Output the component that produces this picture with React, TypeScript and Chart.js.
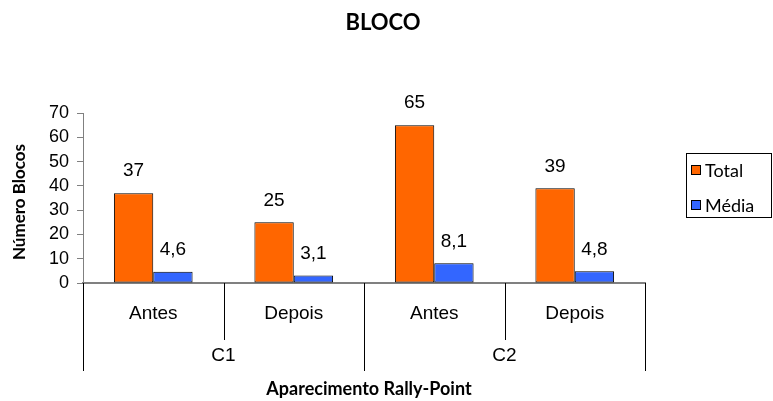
import React, { useEffect, useRef } from "react";
import { Chart, registerables } from "chart.js";

Chart.register(...registerables);

const chartTitle = "BLOCO";
const categories = ["Antes", "Depois", "Antes", "Depois"];
const groups = ["C1", "C2"];
const totalValues = [37, 25, 65, 39];
const mediaValues = [4.6, 3.1, 8.1, 4.8];
const seriesNames = ["Total", "Média"];
const seriesColors = ["#FF6600", "#3366FF"];
const yMax = 70;
const yStep = 10;
const yTitle = "Número Blocos";
const xTitle = "Aparecimento Rally-Point";

const GEO = "Lato, 'DejaVu Sans', sans-serif";
const ARIAL = "'Liberation Sans', Arial, sans-serif";

const overlay = {
  id: "overlay",
  afterDraw(chart: any) {
    const ctx = chart.ctx;
    const area = chart.chartArea;
    const xs = chart.scales.x;
    ctx.save();
    // title
    ctx.fillStyle = "#000";
    ctx.font = `bold 22px ${GEO}`;
    ctx.textAlign = "center";
    ctx.textBaseline = "middle";
    ctx.fillText(chartTitle, 383, 23);

    // data labels
    ctx.font = `19px ${ARIAL}`;
    chart.data.datasets.forEach((ds: any, di: number) => {
      const meta = chart.getDatasetMeta(di);
      meta.data.forEach((bar: any, i: number) => {
        const v = ds.data[i];
        const txt = String(v).replace(".", ",");
        ctx.fillText(txt, bar.x, bar.y - 22);
      });
    });

    // divider lines
    ctx.strokeStyle = "#000";
    ctx.lineWidth = 1;
    const n = categories.length;
    const perGroup = n / groups.length;
    for (let i = 0; i <= n; i++) {
      const x = Math.round(xs.getPixelForValue(i - 0.5)) + 0.5;
      const outer = i % perGroup === 0;
      ctx.beginPath();
      ctx.moveTo(x, area.bottom);
      ctx.lineTo(x, outer ? 371 : 340);
      ctx.stroke();
    }
    // group labels
    ctx.font = `19px ${ARIAL}`;
    groups.forEach((g, gi) => {
      const x0 = xs.getPixelForValue(gi * perGroup - 0.5);
      const x1 = xs.getPixelForValue((gi + 1) * perGroup - 0.5);
      ctx.fillText(g, (x0 + x1) / 2, 356);
    });

    // x axis title
    ctx.font = `bold 18px ${GEO}`;
    ctx.fillText(xTitle, 369, 389);

    // y axis title
    ctx.save();
    ctx.translate(20, 202);
    ctx.rotate(-Math.PI / 2);
    ctx.font = `bold 17px ${GEO}`;
    ctx.fillText(yTitle, 0, 0);
    ctx.restore();

    // legend
    ctx.strokeStyle = "#000";
    ctx.lineWidth = 1;
    ctx.strokeRect(686.5, 153.5, 85, 64);
    const ly = [170, 205];
    ctx.font = `18px ${GEO}`;
    ctx.textAlign = "left";
    seriesNames.forEach((name, i) => {
      ctx.fillStyle = seriesColors[i];
      ctx.fillRect(691, ly[i] - 5, 10, 10);
      ctx.strokeRect(691.5, ly[i] - 5 + 0.5, 9, 9);
      ctx.fillStyle = "#000";
      ctx.fillText(name, 705, ly[i] + 1);
    });
    ctx.restore();
  },
};

export default function App() {
  const ref = useRef<HTMLCanvasElement>(null);
  useEffect(() => {
    if (!ref.current) return;
    const chart = new Chart(ref.current, {
      type: "bar",
      data: {
        labels: categories,
        datasets: [
          {
            label: seriesNames[0],
            data: totalValues,
            backgroundColor: seriesColors[0],
            borderColor: "#000",
            borderWidth: 1,
            borderSkipped: false,
            categoryPercentage: 0.56,
            barPercentage: 1,
          },
          {
            label: seriesNames[1],
            data: mediaValues,
            backgroundColor: seriesColors[1],
            borderColor: "#000",
            borderWidth: 1,
            borderSkipped: false,
            categoryPercentage: 0.56,
            barPercentage: 1,
          },
        ],
      },
      options: {
        responsive: false,
        animation: false,
        layout: { padding: { left: 0, right: 128, top: 113, bottom: 0 } },
        plugins: {
          legend: { display: false },
          title: { display: false },
          tooltip: { enabled: false },
        },
        scales: {
          x: {
            grid: { display: false, drawTicks: false },
            border: { display: true, color: "#808080", width: 2 },
            ticks: {
              color: "#000",
              font: { family: ARIAL, size: 19 },
              padding: 19,
              maxRotation: 0,
            },
            afterFit: (s: any) => {
              s.height = 118;
            },
          },
          y: {
            min: 0,
            max: yMax,
            grid: {
              drawOnChartArea: false,
              drawTicks: true,
              tickLength: 6,
              color: "#808080",
            },
            border: { display: true, color: "#808080", width: 1 },
            ticks: {
              stepSize: yStep,
              autoSkip: false,
              color: "#000",
              font: { family: ARIAL, size: 18 },
              padding: 8,
            },
            afterFit: (s: any) => {
              s.width = 83;
            },
          },
        },
      },
      plugins: [overlay],
    });
    return () => chart.destroy();
  }, []);
  return (
    <div style={{ position: "fixed", left: 0, top: 0, width: 773, height: 401, background: "#fff" }}>
      <canvas ref={ref} width={773} height={401} style={{ display: "block" }} />
    </div>
  );
}
